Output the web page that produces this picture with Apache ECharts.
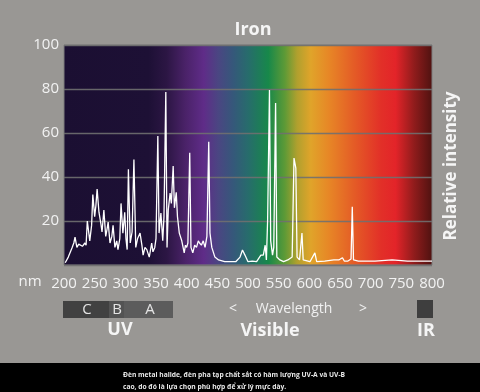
<!DOCTYPE html>
<html><head><meta charset="utf-8">
<script src="https://cdn.jsdelivr.net/npm/echarts@6/dist/echarts.min.js"></script>
<style>html,body{margin:0;padding:0;background:#999794;}#c{width:480px;height:392px;}</style>
</head><body><div id="c"></div>
<script>
var title = 'Iron';
var yTicks = [0, 20, 40, 60, 80, 100];
var xTicks = [200, 250, 300, 350, 400, 450, 500, 550, 600, 650, 700, 750, 800];
var wavelengths = [202,207,213,216,218,221,224,226,230,234,236,238,242,245,247,250,252,254,257,260,262,265,268,270,272,275,278,280,283,286,288,291,293,296,299,301,303,305,308,311,314,317,320,324,327,329,332,335,339,343,345,348,350,353,355,358,361,363,366,368,370,373,375,378,380,383,385,388,392,396,398,400,402,405,407,410,413,416,419,421,424,427,430,433,436,438,441,446,452,462,471,480,487,491,495,500,507,514,521,525,528,530,532,535,537,540,542,545,547,552,558,565,572,575,578,580,584,588,590,601,609,612,625,640,648,654,657,663,668,670,672,680,707,735,760,794,800];
var intensity = [1,3.6,7.7,10,12.7,8,9.5,9,8.5,10,9,20,11,18,32,22,27,34.5,24,19,15,25,13,16,19.5,10,13,18,8,11,7,12,28,14.5,24,12,7,43.5,10,15,48,8,12,14.5,9,4.5,8,7,3.6,10,6,8,12,58.6,14.5,23.6,11,22,78.6,8,25,32.7,28,45,26,33,22,14.5,11,5.5,9,8,10,51,8,5.5,9,8,11,10,9,11,8,13,56,14.5,8,3.6,2.3,1.5,1.5,1.5,3.6,6.8,4.5,1.5,1.8,1.5,4.5,4.5,9,2.3,20.5,79.5,11,4.5,8,73.6,3.6,2.3,1.5,2.3,3.6,48.6,44,3.6,2.3,14.5,2.3,1.5,5.5,1.5,1.8,2.3,2.3,3.3,1.8,1.8,2.7,26.5,2.3,1.8,1.8,2.3,1.8,1.8,1.8];
var bandLabels = ['C', 'B', 'A'];
var caption = ['Đèn metal halide, đèn pha tạp chất sắt có hàm lượng UV-A và UV-B', 'cao, do đó là lựa chọn phù hợp để xử lý mực dày.'];

var pairs = wavelengths.map(function (w, i) { return [w, intensity[i]]; });
var F = '"Open Sans", "DejaVu Sans", sans-serif';
function txt(t, x, y, size, weight, color, align, rot) {
  return { type: 'text', x: x, y: y, rotation: rot || 0, z: 10,
    style: { text: t, x: 0, y: 0, fill: color || '#f2f2f2', font: (weight || 'normal') + ' ' + size + 'px ' + F,
      align: align || 'center', verticalAlign: 'middle', textAlign: align || 'center', textVerticalAlign: 'middle' } };
}
var grad = new echarts.graphic.LinearGradient(0, 0, 1, 0, [
  {offset: 0, color: '#1b0f32'}, {offset: 0.23, color: '#1d1035'}, {offset: 0.28, color: '#2c1644'},
  {offset: 0.33, color: '#4a2268'}, {offset: 0.38, color: '#5f2c88'}, {offset: 0.42, color: '#4a4682'},
  {offset: 0.46, color: '#35587a'}, {offset: 0.50, color: '#276c6c'}, {offset: 0.555, color: '#17884a'},
  {offset: 0.60, color: '#5e9a36'}, {offset: 0.633, color: '#b0a02e'}, {offset: 0.67, color: '#e0a42a'},
  {offset: 0.72, color: '#e78626'}, {offset: 0.79, color: '#e45a26'}, {offset: 0.86, color: '#e23028'},
  {offset: 0.90, color: '#e32429'}, {offset: 0.95, color: '#901c1c'}, {offset: 1, color: '#4e1210'}
]);
var chart = echarts.init(document.getElementById('c'), null, {renderer: 'canvas'});
chart.setOption({
  backgroundColor: '#999794',
  animation: false,
  title: { text: title, left: 248, top: 25, textAlign: 'center', textVerticalAlign: 'middle',
    textStyle: { color: '#f5f5f5', fontSize: 18, fontWeight: 'bold', fontFamily: F } },
  grid: { left: 64, right: 48, top: 45, bottom: 127, show: true, backgroundColor: grad,
    borderColor: '#7c7c7c', borderWidth: 1 },
  xAxis: { type: 'value', min: xTicks[0], max: xTicks[xTicks.length - 1], interval: 50,
    axisLine: { show: false }, axisTick: { show: false }, splitLine: { show: false },
    axisLabel: { color: '#f2f2f2', fontSize: 15, fontFamily: F, margin: 11 } },
  yAxis: { type: 'value', min: yTicks[0], max: yTicks[yTicks.length - 1], interval: 20,
    axisLine: { show: false }, axisTick: { show: false },
    splitLine: { show: true, lineStyle: { color: 'rgba(112,112,112,0.9)', width: 1.3 } },
    axisLabel: { color: '#f2f2f2', fontSize: 15, fontFamily: F, margin: 5, showMinLabel: false,
      formatter: function (v) { return v === 0 ? '' : String(v); } } },
  series: [{ type: 'line', data: pairs, symbol: 'none', smooth: false,
    lineStyle: { color: '#ffffff', width: 1.3 }, z: 5 }],
  graphic: [
    txt('nm', 30, 282, 15, 'normal', '#f2f2f2'),
    txt('Relative intensity', 451, 166, 17, 'bold', '#f5f5f5', 'center', Math.PI / 2),
    { type: 'rect', shape: { x: 63, y: 301, width: 46, height: 17 }, style: { fill: '#414141' } },
    { type: 'rect', shape: { x: 109, y: 301, width: 15, height: 17 }, style: { fill: '#535353' } },
    { type: 'rect', shape: { x: 124, y: 301, width: 49, height: 17 }, style: { fill: '#5c5c5c' } },
    txt(bandLabels[0], 87, 310, 15, 'normal', '#e4e4e4'),
    txt(bandLabels[1], 117, 310, 15, 'normal', '#e4e4e4'),
    txt(bandLabels[2], 150, 310, 15, 'normal', '#e4e4e4'),
    txt('<', 233, 309, 14, 'normal', '#f0f0f0'),
    txt('Wavelength', 294, 309, 14, 'normal', '#f0f0f0'),
    txt('>', 363, 309, 14, 'normal', '#f0f0f0'),
    { type: 'rect', shape: { x: 417, y: 300, width: 16, height: 18 }, style: { fill: '#3e3e3e' } },
    txt('UV', 120, 330, 18, 'bold', '#f5f5f5'),
    txt('Visible', 270, 331, 18, 'bold', '#f5f5f5'),
    txt('IR', 426, 331, 18, 'bold', '#f5f5f5'),
    { type: 'rect', shape: { x: 0, y: 363, width: 480, height: 29 }, style: { fill: '#000000' } },
    txt(caption[0], 123, 375, 6.7, 'bold', '#e8e8e8', 'left'),
    txt(caption[1], 123, 387, 6.7, 'bold', '#e8e8e8', 'left')
  ]
});
</script></body></html>
